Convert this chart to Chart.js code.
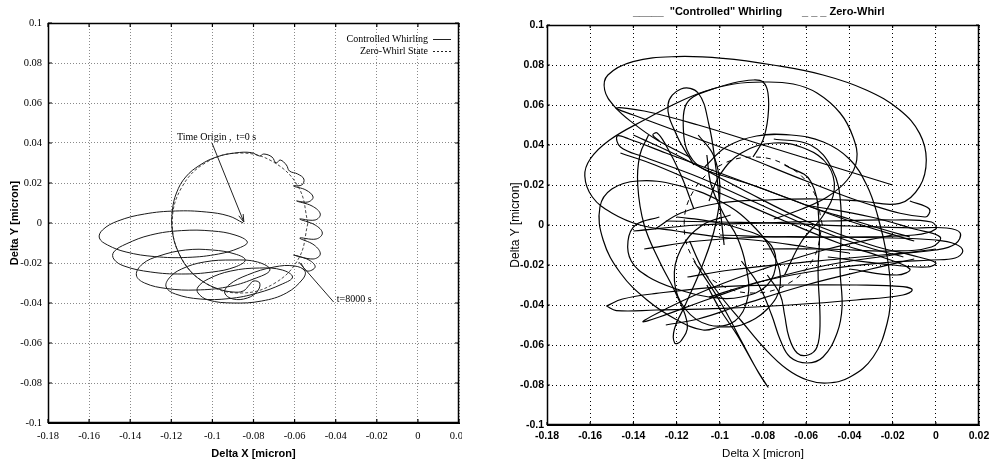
<!DOCTYPE html>
<html>
<head>
<meta charset="utf-8">
<script src="https://cdn.jsdelivr.net/npm/chart.js@4.4.1/dist/chart.umd.min.js"></script>
<style>
  html, body { margin: 0; padding: 0; background: #fff; }
  body { width: 989px; height: 461px; position: relative; overflow: hidden; }
  .panel { position: absolute; top: 0; height: 461px; overflow: hidden; }
  #leftPanel { left: 0; width: 462px; }
  #rightPanel { left: 492px; width: 497px; }
</style>
</head>
<body>
<div class="panel" id="leftPanel"><canvas id="leftChart" width="462" height="461"></canvas></div>
<div class="panel" id="rightPanel"><canvas id="rightChart" width="497" height="461"></canvas></div>
<script>
// axis ticks shared by both panels
const xTickValues = [-0.18, -0.16, -0.14, -0.12, -0.1, -0.08, -0.06, -0.04, -0.02, 0, 0.02];
const yTickValues = [-0.1, -0.08, -0.06, -0.04, -0.02, 0, 0.02, 0.04, 0.06, 0.08, 0.1];

// ---- left panel: trajectory (x, y in micron)
const leftWhirl = [
  [-0.085, 0.000], [-0.092, 0.0035], [-0.103, 0.0055], [-0.118, 0.006], [-0.133, 0.0045], [-0.146, 0.001], [-0.1535, -0.0035], [-0.155, -0.0075],
  [-0.151, -0.011], [-0.142, -0.0145], [-0.128, -0.0168], [-0.112, -0.0172], [-0.097, -0.0155], [-0.087, -0.0125], [-0.083, -0.0095],
  [-0.089, -0.006], [-0.100, -0.004], [-0.115, -0.0038], [-0.130, -0.006], [-0.142, -0.0105], [-0.148, -0.0145], [-0.148, -0.018],
  [-0.143, -0.0215], [-0.130, -0.0245], [-0.115, -0.0255], [-0.100, -0.0245], [-0.089, -0.022], [-0.084, -0.0185],
  [-0.089, -0.0155], [-0.100, -0.0135], [-0.113, -0.0135], [-0.126, -0.0165], [-0.134, -0.0205], [-0.137, -0.026],
  [-0.133, -0.030], [-0.122, -0.0328], [-0.108, -0.0335], [-0.093, -0.032], [-0.080, -0.028], [-0.072, -0.0235],
  [-0.078, -0.0195], [-0.090, -0.0185], [-0.104, -0.0195], [-0.115, -0.023], [-0.121, -0.0275], [-0.1225, -0.032],
  [-0.118, -0.0355], [-0.106, -0.038], [-0.092, -0.0378], [-0.078, -0.035], [-0.066, -0.0305], [-0.061, -0.027],
  [-0.066, -0.0235], [-0.077, -0.0225], [-0.091, -0.024], [-0.102, -0.028], [-0.107, -0.032], [-0.107, -0.035],
  [-0.102, -0.0385], [-0.090, -0.040], [-0.076, -0.039], [-0.064, -0.035], [-0.056, -0.028], [-0.055, -0.024],
  [-0.060, -0.0215], [-0.070, -0.022], [-0.083, -0.026], [-0.092, -0.031], [-0.094, -0.035],
  [-0.090, -0.038], [-0.083, -0.0375], [-0.078, -0.034], [-0.077, -0.030], [-0.080, -0.029], [-0.082, -0.031], [-0.085, -0.034],
  [-0.090, -0.0345], [-0.097, -0.033], [-0.105, -0.029], [-0.112, -0.0225], [-0.117, -0.0135], [-0.1195, -0.004], [-0.1195, 0.006],
  [-0.1175, 0.015], [-0.113, 0.023], [-0.106, 0.029], [-0.098, 0.033], [-0.089, 0.035], [-0.081, 0.0352],
  [-0.077, 0.0335], [-0.075, 0.0345], [-0.071, 0.033], [-0.069, 0.030], [-0.067, 0.0315], [-0.064, 0.029], [-0.0625, 0.026],
  [-0.0585, 0.0245], [-0.0555, 0.022], [-0.0565, 0.019], [-0.0605, 0.0185],
  [-0.0545, 0.0165], [-0.051, 0.013], [-0.0535, 0.0105], [-0.059, 0.011],
  [-0.0515, 0.0085], [-0.0475, 0.0045], [-0.050, 0.0015], [-0.0575, 0.002],
  [-0.050, -0.001], [-0.0465, -0.005], [-0.0495, -0.008], [-0.0575, -0.0075],
  [-0.0505, -0.011], [-0.0475, -0.0155], [-0.051, -0.018], [-0.0605, -0.016],
  [-0.053, -0.0185], [-0.050, -0.022], [-0.054, -0.024], [-0.057, -0.020]
];
const leftZeroWhirl = [
  [-0.0535, 0.0], [-0.0579, 0.0175], [-0.070, 0.0303], [-0.0865, 0.035], [-0.103, 0.0303], [-0.1151, 0.0175], [-0.1195, 0.0],
  [-0.1151, -0.0175], [-0.103, -0.0303], [-0.0865, -0.035], [-0.070, -0.0303], [-0.0579, -0.0175], [-0.0535, 0.0]
];
const leftLegend = ['Controlled Whirling', 'Zero-Whirl State'];
const leftNotes = [
  { text: 'Time Origin ,  t=0 s', at: [-0.1172, 0.043], from: [-0.1002, 0.040], to: [-0.0847, 0.0005], arrow: true },
  { text: 't=8000 s', at: [-0.0395, -0.038], from: [-0.041, -0.0395], to: [-0.058, -0.0195], arrow: false }
];

// ---- right panel: strokes of the tangle
const rightBigTop = [[-0.114, 0.034], [-0.129, 0.0425], [-0.140, 0.0508], [-0.1487, 0.0592], [-0.1533, 0.0675], [-0.1518, 0.075], [-0.1402, 0.0817], [-0.1201, 0.0842], [-0.0985, 0.0833], [-0.0754, 0.080], [-0.0522, 0.075], [-0.0322, 0.0675], [-0.0167, 0.0575], [-0.0075, 0.0458], [-0.0044, 0.0325], [-0.0075, 0.0192], [-0.0167, 0.0108], [-0.035, 0.012], [-0.055, 0.013], [-0.078, 0.0125], [-0.100, 0.011], [-0.118, 0.006], [-0.130, -0.002]];
const rightLeftLoop = [[-0.040, -0.014], [-0.060, -0.011], [-0.080, -0.008], [-0.100, -0.006], [-0.120, -0.003], [-0.137, 0.000], [-0.150, 0.006], [-0.159, 0.014], [-0.1625, 0.0245], [-0.160, 0.033], [-0.151, 0.0425], [-0.135, 0.0525], [-0.119, 0.0615], [-0.1065, 0.067], [-0.0935, 0.0705], [-0.080, 0.0715], [-0.066, 0.0705], [-0.055, 0.066], [-0.0443, 0.056], [-0.0383, 0.044], [-0.0366, 0.0325], [-0.041, 0.0225], [-0.0503, 0.014], [-0.062, 0.008], [-0.075, 0.003]];
const rightTopLoop = [[-0.0846, 0.034], [-0.080, 0.0425], [-0.0777, 0.054], [-0.0777, 0.066], [-0.080, 0.0715], [-0.0846, 0.0725], [-0.0939, 0.071], [-0.1045, 0.0675], [-0.1124, 0.064], [-0.1161, 0.059], [-0.1169, 0.049], [-0.1152, 0.0375], [-0.1091, 0.029], [-0.0967, 0.024], [-0.085, 0.020], [-0.070, 0.014], [-0.055, 0.008], [-0.040, 0.003], [-0.025, -0.002], [-0.012, -0.006]];
const rightLowBand = [[-0.1525, -0.0405], [-0.145, -0.037], [-0.1294, -0.0342], [-0.0985, -0.0308], [-0.0677, -0.030], [-0.0368, -0.030], [-0.0152, -0.0308], [-0.0109, -0.0325], [-0.0152, -0.035], [-0.0368, -0.0375], [-0.0677, -0.040], [-0.0985, -0.0417], [-0.1294, -0.0425], [-0.1479, -0.0428], [-0.1525, -0.0405]];
const rightBandA = [[-0.125, 0.002], [-0.10, 0.0015], [-0.07, 0.0008], [-0.04, -0.0005], [-0.01, -0.0015], [0.005, -0.0015], [0.0113, -0.004], [0.009, -0.0095], [0.0, -0.0125], [-0.02, -0.0145], [-0.045, -0.017], [-0.07, -0.0195], [-0.095, -0.0225], [-0.115, -0.026]];
const rightBandB = [[-0.135, -0.012], [-0.11, -0.008], [-0.08, -0.006], [-0.05, -0.006], [-0.02, -0.0065], [0.0, -0.0075], [0.009, -0.0095], [0.0125, -0.013], [0.009, -0.0165], [-0.002, -0.0175], [-0.02, -0.0185], [-0.05, -0.022], [-0.08, -0.028], [-0.105, -0.036]];
const rightBandC = [[-0.14, -0.003], [-0.11, 0.0], [-0.08, 0.001], [-0.05, 0.002], [-0.02, 0.0025], [-0.002, 0.0015], [0.0, -0.002], [-0.01, -0.005], [-0.04, -0.006], [-0.07, -0.006], [-0.10, -0.005]];
const rightBandD = [[-0.06, 0.01], [-0.03, 0.004], [-0.01, -0.002], [0.002, -0.006], [-0.002, -0.011], [-0.02, -0.013], [-0.05, -0.012], [-0.08, -0.012]];
const rightOuterU = [[-0.107, 0.029], [-0.097, 0.039], [-0.083, 0.0445], [-0.067, 0.045], [-0.052, 0.0415], [-0.040, 0.033], [-0.032, 0.02], [-0.027, 0.005], [-0.0225, -0.016], [-0.021, -0.0325], [-0.0225, -0.049], [-0.029, -0.066], [-0.0397, -0.076], [-0.0503, -0.079], [-0.0595, -0.0775], [-0.069, -0.072], [-0.079, -0.062], [-0.090, -0.048], [-0.100, -0.035], [-0.108, -0.022], [-0.114, -0.008]];
const rightMidU = [[-0.075, 0.043], [-0.058, 0.040], [-0.048, 0.028], [-0.044, 0.010], [-0.0443, -0.0225], [-0.0434, -0.041], [-0.0457, -0.054], [-0.0522, -0.066], [-0.0596, -0.069], [-0.0675, -0.066], [-0.072, -0.0575], [-0.076, -0.045], [-0.082, -0.030], [-0.09, -0.018]];
const rightInnerU = [[-0.07, 0.03], [-0.058, 0.022], [-0.054, 0.0], [-0.0545, -0.024], [-0.0536, -0.049], [-0.055, -0.061], [-0.0591, -0.065], [-0.0642, -0.064], [-0.068, -0.056], [-0.070, -0.045], [-0.072, -0.035], [-0.078, -0.025]];
const rightMidLoop = [[-0.105, 0.012], [-0.1, 0.025], [-0.09, 0.036], [-0.075, 0.041], [-0.06, 0.038], [-0.05, 0.03], [-0.047, 0.018], [-0.052, 0.005], [-0.062, -0.008], [-0.07, -0.025]];
const rightSpike = [[-0.112, -0.018], [-0.100, -0.038], [-0.090, -0.058], [-0.082, -0.074], [-0.0777, -0.081], [-0.083, -0.072], [-0.092, -0.055], [-0.100, -0.042], [-0.106, -0.03]];
const rightLowLeftLoop = [[-0.100, -0.051], [-0.1078, -0.0525], [-0.1198, -0.0475], [-0.1337, -0.0375], [-0.146, -0.024], [-0.154, -0.0075], [-0.1555, 0.009], [-0.150, 0.018], [-0.138, 0.022], [-0.120, 0.020], [-0.10, 0.012], [-0.085, 0.0], [-0.075, -0.015], [-0.072, -0.03], [-0.078, -0.042], [-0.09, -0.05], [-0.100, -0.051]];
const rightCenterLoop = [[-0.128, 0.004], [-0.139, 0.0], [-0.1425, -0.008], [-0.141, -0.018], [-0.133, -0.026], [-0.12, -0.032], [-0.105, -0.036], [-0.09, -0.036], [-0.078, -0.030], [-0.074, -0.018], [-0.078, -0.008], [-0.09, -0.002], [-0.105, 0.002], [-0.12, 0.004]];
const rightKnotLoop = [[-0.095, 0.005], [-0.108, 0.0], [-0.118, -0.012], [-0.121, -0.028], [-0.116, -0.042], [-0.105, -0.05], [-0.093, -0.048], [-0.087, -0.036], [-0.088, -0.02], [-0.092, -0.006], [-0.098, 0.005], [-0.104, 0.02], [-0.106, 0.035]];
const rightDiagA = [[-0.02, 0.020], [-0.05, 0.030], [-0.08, 0.040], [-0.11, 0.050], [-0.135, 0.057], [-0.148, 0.0585], [-0.140, 0.055], [-0.115, 0.045], [-0.09, 0.035], [-0.06, 0.022], [-0.03, 0.010], [-0.005, 0.004], [-0.003, 0.008], [-0.012, 0.012]];
const rightDiagB = [[-0.01, -0.008], [-0.04, 0.002], [-0.07, 0.014], [-0.10, 0.026], [-0.125, 0.036], [-0.142, 0.043], [-0.1475, 0.0445], [-0.146, 0.039], [-0.135, 0.034], [-0.11, 0.024], [-0.085, 0.012], [-0.06, 0.0], [-0.035, -0.01], [-0.015, -0.016]];
const rightDiagC = [[-0.14, 0.045], [-0.12, 0.035], [-0.09, 0.018], [-0.06, 0.002], [-0.03, -0.010], [-0.008, -0.016], [0.0, -0.019], [-0.004, -0.021], [-0.02, -0.020], [-0.05, -0.016]];
const rightDiagD = [[-0.146, 0.036], [-0.13, 0.03], [-0.10, 0.016], [-0.07, 0.002], [-0.045, -0.009], [-0.025, -0.016], [-0.012, -0.022], [-0.018, -0.025], [-0.04, -0.022]];
const rightNarrowLobe = [[-0.128, 0.042], [-0.131, 0.045], [-0.129, 0.046], [-0.125, 0.04], [-0.118, 0.025], [-0.112, 0.008]];
const rightUpperLobe = [[-0.112, 0.03], [-0.12, 0.045], [-0.124, 0.06], [-0.118, 0.068], [-0.11, 0.066], [-0.105, 0.05], [-0.102, 0.03], [-0.1, 0.01], [-0.098, -0.01]];
const rightVertLoop = [[-0.133, 0.045], [-0.137, 0.035], [-0.138, 0.02], [-0.135, 0.0], [-0.128, -0.018], [-0.12, -0.035], [-0.115, -0.05], [-0.118, -0.058], [-0.1209, -0.059], [-0.121, -0.052], [-0.116, -0.04], [-0.108, -0.02], [-0.102, 0.0], [-0.10, 0.02], [-0.103, 0.035], [-0.11, 0.045]];
const rightSlant = [[-0.02, -0.005], [-0.05, -0.012], [-0.08, -0.022], [-0.105, -0.032], [-0.125, -0.042], [-0.1356, -0.0483], [-0.128, -0.046], [-0.105, -0.037], [-0.08, -0.028], [-0.05, -0.02], [-0.02, -0.015], [0.0, -0.012]];
const rightSlantB = [[-0.125, -0.05], [-0.11, -0.047], [-0.09, -0.040], [-0.06, -0.030], [-0.03, -0.022], [-0.01, -0.017]];
const rightZeroWhirl = [
  [-0.0525, 0.0], [-0.0568, 0.017], [-0.0685, 0.0294], [-0.0845, 0.034], [-0.1005, 0.0294], [-0.1122, 0.017], [-0.1165, 0.0],
  [-0.1122, -0.017], [-0.1005, -0.0294], [-0.0845, -0.034], [-0.0685, -0.0294], [-0.0568, -0.017], [-0.0525, 0.0]
];
const rightLegend = ['_____  "Controlled" Whirling', '_ _ _ Zero-Whirl'];

const rightStrokes = [rightBigTop, rightLeftLoop, rightTopLoop, rightLowBand, rightBandA, rightBandB, rightBandC, rightBandD,
  rightOuterU, rightMidU, rightInnerU, rightMidLoop, rightSpike, rightLowLeftLoop, rightCenterLoop, rightKnotLoop,
  rightDiagA, rightDiagB, rightDiagC, rightDiagD, rightNarrowLobe, rightUpperLobe, rightVertLoop, rightSlant, rightSlantB];

const toPoints = arr => arr.map(p => ({ x: p[0], y: p[1] }));
const fmtTick = v => String(parseFloat(Number(v).toFixed(2)));

function makeAxes(cfg) {
  return {
    x: {
      type: 'linear', min: -0.18, max: 0.02,
      afterBuildTicks: s => { s.ticks = xTickValues.map(v => ({ value: v })); },
      ticks: { callback: fmtTick, color: '#000', font: cfg.tickFont, padding: cfg.xPad, maxRotation: 0, autoSkip: false },
      grid: { color: cfg.gridColor, lineWidth: 1, drawTicks: false },
      border: { color: '#000', dash: cfg.dash },
      title: { display: true, text: 'Delta X [micron]', color: '#000', font: cfg.titleFont, padding: { top: cfg.xTitlePad, bottom: 0 } },
      afterFit: s => { s.height = cfg.xHeight; s.paddingLeft = 0; s.paddingRight = 0; }
    },
    y: {
      type: 'linear', min: -0.1, max: 0.1,
      afterBuildTicks: s => { s.ticks = yTickValues.map(v => ({ value: v })); },
      ticks: { callback: fmtTick, color: '#000', font: cfg.tickFont, padding: cfg.yPad, autoSkip: false },
      grid: { color: cfg.gridColor, lineWidth: 1, drawTicks: false },
      border: { color: '#000', dash: cfg.dash },
      title: { display: true, text: 'Delta Y [micron]', color: '#000', font: cfg.yTitleFont || cfg.titleFont, padding: { top: cfg.yTitlePad, bottom: 0 } },
      afterFit: s => { s.width = cfg.yWidth; }
    }
  };
}

// solid frame round the plot area plus short inward tick marks
function drawFrame(chart, tickLen) {
  const { ctx, chartArea: a, scales: { x, y } } = chart;
  ctx.save();
  ctx.setLineDash([]);
  ctx.strokeStyle = '#000';
  ctx.lineWidth = 1.5;
  ctx.strokeRect(a.left + 0.5, a.top + 0.5, a.width - 1, a.height - 1);
  ctx.lineWidth = 1.2;
  ctx.beginPath();
  x.ticks.forEach(t => {
    const px = x.getPixelForValue(t.value);
    ctx.moveTo(px, a.bottom); ctx.lineTo(px, a.bottom - tickLen);
    ctx.moveTo(px, a.top); ctx.lineTo(px, a.top + tickLen);
  });
  y.ticks.forEach(t => {
    const py = y.getPixelForValue(t.value);
    ctx.moveTo(a.left, py); ctx.lineTo(a.left + tickLen, py);
    ctx.moveTo(a.right, py); ctx.lineTo(a.right - tickLen, py);
  });
  ctx.stroke();
  ctx.restore();
}

const leftDecor = {
  id: 'leftDecor',
  afterDraw(chart) {
    drawFrame(chart, 4);
    const { ctx, chartArea: a, scales: { x, y } } = chart;
    ctx.save();
    ctx.fillStyle = '#000';
    ctx.strokeStyle = '#222';
    ctx.lineWidth = 1;
    ctx.font = '10px "Liberation Serif", "DejaVu Serif", serif';
    ctx.textBaseline = 'middle';
    ctx.textAlign = 'right';
    leftLegend.forEach((label, i) => {
      const ly = a.top + 16 + i * 12;
      ctx.fillText(label, a.right - 31, ly);
      ctx.setLineDash(i === 0 ? [] : [2, 2]);
      ctx.beginPath();
      ctx.moveTo(a.right - 26, ly + 0.5);
      ctx.lineTo(a.right - 8, ly + 0.5);
      ctx.stroke();
    });
    ctx.setLineDash([]);
    ctx.textAlign = 'left';
    leftNotes.forEach(n => {
      ctx.fillText(n.text, x.getPixelForValue(n.at[0]), y.getPixelForValue(n.at[1]));
      const x0 = x.getPixelForValue(n.from[0]), y0 = y.getPixelForValue(n.from[1]);
      const x1 = x.getPixelForValue(n.to[0]), y1 = y.getPixelForValue(n.to[1]);
      ctx.beginPath();
      ctx.moveTo(x0, y0);
      ctx.lineTo(x1, y1);
      if (n.arrow) {
        const ang = Math.atan2(y1 - y0, x1 - x0);
        ctx.moveTo(x1 - 8 * Math.cos(ang - 0.3), y1 - 8 * Math.sin(ang - 0.3));
        ctx.lineTo(x1, y1);
        ctx.lineTo(x1 - 8 * Math.cos(ang + 0.3), y1 - 8 * Math.sin(ang + 0.3));
      }
      ctx.stroke();
    });
    ctx.restore();
  }
};

const rightDecor = {
  id: 'rightDecor',
  afterDraw(chart) {
    drawFrame(chart, 3);
    const { ctx, chartArea: a } = chart;
    ctx.save();
    ctx.fillStyle = '#000';
    ctx.font = 'bold 11px "Liberation Sans", Arial, sans-serif';
    ctx.textBaseline = 'middle';
    ctx.textAlign = 'left';
    ctx.fillText(rightLegend[0], a.left + 86, 12);
    ctx.fillText(rightLegend[1], a.left + 255, 12);
    ctx.restore();
  }
};

new Chart(document.getElementById('leftChart'), {
  type: 'scatter',
  data: {
    datasets: [
      { label: leftLegend[0], data: toPoints(leftWhirl), showLine: true, borderColor: '#1a1a1a', borderWidth: 1, pointRadius: 0, tension: 0.4 },
      { label: leftLegend[1], data: toPoints(leftZeroWhirl), showLine: true, borderColor: '#333', borderWidth: 0.9, borderDash: [3, 2], pointRadius: 0, tension: 0.4 }
    ]
  },
  options: {
    responsive: false,
    animation: false,
    layout: { padding: { top: 23, right: 3, bottom: 0, left: 0 } },
    plugins: { legend: { display: false }, tooltip: { enabled: false } },
    scales: makeAxes({
      tickFont: { family: '"Liberation Serif", "DejaVu Serif", serif', size: 10.5 },
      titleFont: { family: '"Liberation Sans", Arial, sans-serif', size: 11, weight: 'bold' },
      gridColor: '#8a8a8a', dash: [1, 2], xPad: 7, yPad: 6, xHeight: 38, yWidth: 48, xTitlePad: 2, yTitlePad: 8
    })
  },
  plugins: [leftDecor]
});

new Chart(document.getElementById('rightChart'), {
  type: 'scatter',
  data: {
    datasets: rightStrokes.map((s, i) => ({
      label: 'Controlled Whirling ' + (i + 1), data: toPoints(s), showLine: true,
      borderColor: '#000', borderWidth: 1.2, pointRadius: 0, tension: 0.4
    })).concat([
      { label: 'Zero-Whirl', data: toPoints(rightZeroWhirl), showLine: true, borderColor: '#000', borderWidth: 1, borderDash: [5, 5], pointRadius: 0, tension: 0.4 }
    ])
  },
  options: {
    responsive: false,
    animation: false,
    layout: { padding: { top: 25, right: 10, bottom: 0, left: 0 } },
    plugins: { legend: { display: false }, tooltip: { enabled: false } },
    scales: makeAxes({
      tickFont: { family: '"Liberation Sans", Arial, sans-serif', size: 10.5, weight: 'bold' },
      titleFont: { family: '"Liberation Sans", Arial, sans-serif', size: 11.5 },
      yTitleFont: { family: '"Liberation Sans", Arial, sans-serif', size: 12 },
      gridColor: '#000', dash: [1, 3], xPad: 5, yPad: 3, xHeight: 36, yWidth: 55, xTitlePad: 3, yTitlePad: 16
    })
  },
  plugins: [rightDecor]
});
</script>
</body>
</html>
